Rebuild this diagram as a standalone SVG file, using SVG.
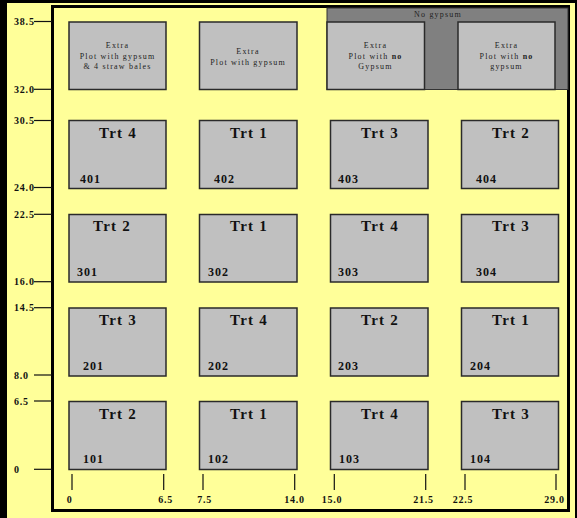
<svg xmlns="http://www.w3.org/2000/svg" width="577" height="518" viewBox="0 0 577 518">
<style>
.plot{fill:#C0C0C0;stroke:#2a2a2a;stroke-width:1.5}
.trt{font-family:"Liberation Serif",serif;font-weight:bold;font-size:15px;letter-spacing:1.2px;text-anchor:middle;fill:#111}
.num{font-family:"Liberation Serif",serif;font-weight:bold;font-size:12px;letter-spacing:1px;fill:#111}
.ex{font-family:"Liberation Serif",serif;font-size:8px;letter-spacing:1.2px;text-anchor:middle;fill:#222}
.ax{font-family:"Liberation Serif",serif;font-weight:bold;font-size:10px;letter-spacing:0.8px;fill:#111}
.axm{font-family:"Liberation Serif",serif;font-weight:bold;font-size:10px;letter-spacing:0.8px;fill:#111;text-anchor:middle}
.tick{stroke:#111;stroke-width:1.2}
</style>
<rect x="0" y="0" width="577" height="518" fill="#FFFF99"/>
<rect x="0" y="0" width="7" height="518" fill="#000"/>
<rect x="0" y="0" width="577" height="3" fill="#000"/>
<rect x="575" y="0" width="2" height="518" fill="#000"/>
<rect x="52.5" y="6.5" width="516" height="504" fill="#FFFF99" stroke="#000" stroke-width="3"/>
<g id="nogypsum">
<rect x="327" y="8" width="241" height="81.5" fill="#808080" stroke="#333" stroke-width="1"/>
<text class="ex" x="438" y="17.3">No gypsum</text>
</g>
<g id="extra1"><rect class="plot" x="69" y="22" width="97" height="67.5"/>
<text class="ex" x="117.5" y="47.5">Extra</text><text class="ex" x="117.5" y="58.5">Plot with gypsum</text><text class="ex" x="117.5" y="69">&amp; 4 straw bales</text></g>
<g id="extra2"><rect class="plot" x="199.5" y="22" width="97.5" height="67.5"/>
<text class="ex" x="248" y="54.3">Extra</text><text class="ex" x="248" y="64.5">Plot with gypsum</text></g>
<g id="extra3"><rect class="plot" x="327" y="22" width="97.5" height="67.5"/>
<text class="ex" x="375.5" y="47.5">Extra</text><text class="ex" x="375.5" y="58.5">Plot with <tspan font-weight="bold">no</tspan></text><text class="ex" x="375.5" y="69">Gypsum</text></g>
<g id="extra4"><rect class="plot" x="458" y="22" width="97" height="67.5"/>
<text class="ex" x="506.5" y="47.5">Extra</text><text class="ex" x="506.5" y="58.5">Plot with <tspan font-weight="bold">no</tspan></text><text class="ex" x="506.5" y="69">gypsum</text></g>

<g id="p401"><rect class="plot" x="69" y="120.5" width="97" height="68"/><text class="trt" x="118" y="138">Trt 4</text><text class="num" x="80" y="183">401</text></g>
<g id="p402"><rect class="plot" x="199.5" y="120.5" width="97.5" height="68"/><text class="trt" x="249" y="138">Trt 1</text><text class="num" x="214" y="183">402</text></g>
<g id="p403"><rect class="plot" x="330.5" y="120.5" width="97.5" height="68"/><text class="trt" x="380" y="138">Trt 3</text><text class="num" x="338" y="183">403</text></g>
<g id="p404"><rect class="plot" x="461.5" y="120.5" width="97" height="68"/><text class="trt" x="511" y="138">Trt 2</text><text class="num" x="476" y="183">404</text></g>

<g id="p301"><rect class="plot" x="69" y="214.5" width="97" height="67.5"/><text class="trt" x="112" y="231.3">Trt 2</text><text class="num" x="77" y="276">301</text></g>
<g id="p302"><rect class="plot" x="199.5" y="214.5" width="97.5" height="67.5"/><text class="trt" x="249" y="231.3">Trt 1</text><text class="num" x="208" y="276">302</text></g>
<g id="p303"><rect class="plot" x="330.5" y="214.5" width="97.5" height="67.5"/><text class="trt" x="380" y="231.3">Trt 4</text><text class="num" x="338" y="276">303</text></g>
<g id="p304"><rect class="plot" x="461.5" y="214.5" width="97" height="67.5"/><text class="trt" x="511" y="231.3">Trt 3</text><text class="num" x="476" y="276">304</text></g>

<g id="p201"><rect class="plot" x="69" y="308" width="97" height="68"/><text class="trt" x="118" y="325.3">Trt 3</text><text class="num" x="83" y="369.5">201</text></g>
<g id="p202"><rect class="plot" x="199.5" y="308" width="97.5" height="68"/><text class="trt" x="249" y="325.3">Trt 4</text><text class="num" x="208" y="369.5">202</text></g>
<g id="p203"><rect class="plot" x="330.5" y="308" width="97.5" height="68"/><text class="trt" x="380" y="325.3">Trt 2</text><text class="num" x="338" y="369.5">203</text></g>
<g id="p204"><rect class="plot" x="461.5" y="308" width="97" height="68"/><text class="trt" x="511" y="325.3">Trt 1</text><text class="num" x="470" y="369.5">204</text></g>

<g id="p101"><rect class="plot" x="69" y="401.5" width="97" height="68"/><text class="trt" x="118" y="419">Trt 2</text><text class="num" x="83" y="463">101</text></g>
<g id="p102"><rect class="plot" x="199.5" y="401.5" width="97.5" height="68"/><text class="trt" x="249" y="419">Trt 1</text><text class="num" x="208" y="463">102</text></g>
<g id="p103"><rect class="plot" x="330.5" y="401.5" width="97.5" height="68"/><text class="trt" x="380" y="419">Trt 4</text><text class="num" x="339" y="463">103</text></g>
<g id="p104"><rect class="plot" x="461.5" y="401.5" width="97" height="68"/><text class="trt" x="511" y="419">Trt 3</text><text class="num" x="470" y="463">104</text></g>

<g id="yaxis">
<line class="tick" x1="34" y1="21.5" x2="52" y2="21.5"/><text class="ax" x="14" y="25">38.5</text>
<line class="tick" x1="34" y1="89.3" x2="52" y2="89.3"/><text class="ax" x="14" y="92.8">32.0</text>
<line class="tick" x1="34" y1="120.5" x2="52" y2="120.5"/><text class="ax" x="14" y="124">30.5</text>
<line class="tick" x1="34" y1="187.5" x2="52" y2="187.5"/><text class="ax" x="14" y="191">24.0</text>
<line class="tick" x1="34" y1="214.3" x2="52" y2="214.3"/><text class="ax" x="14" y="217.8">22.5</text>
<line class="tick" x1="34" y1="281.7" x2="52" y2="281.7"/><text class="ax" x="14" y="285.2">16.0</text>
<line class="tick" x1="34" y1="307.7" x2="52" y2="307.7"/><text class="ax" x="14" y="311.2">14.5</text>
<line class="tick" x1="34" y1="375" x2="52" y2="375"/><text class="ax" x="14" y="378.5">8.0</text>
<line class="tick" x1="34" y1="401" x2="52" y2="401"/><text class="ax" x="14" y="404.5">6.5</text>
<line class="tick" x1="34" y1="469.3" x2="52" y2="469.3"/><text class="ax" x="14" y="472.8">0</text>
</g>
<g id="xaxis">
<line class="tick" x1="72" y1="474" x2="72" y2="490"/><text class="axm" x="69.7" y="502.5">0</text>
<line class="tick" x1="163.7" y1="474" x2="163.7" y2="490"/><text class="axm" x="165.7" y="502.5">6.5</text>
<line class="tick" x1="203" y1="474" x2="203" y2="490"/><text class="axm" x="204.7" y="502.5">7.5</text>
<line class="tick" x1="294.7" y1="474" x2="294.7" y2="490"/><text class="axm" x="294.5" y="502.5">14.0</text>
<line class="tick" x1="334.3" y1="474" x2="334.3" y2="490"/><text class="axm" x="332" y="502.5">15.0</text>
<line class="tick" x1="425.7" y1="474" x2="425.7" y2="490"/><text class="axm" x="423.5" y="502.5">21.5</text>
<line class="tick" x1="465" y1="474" x2="465" y2="490"/><text class="axm" x="463" y="502.5">22.5</text>
<line class="tick" x1="556" y1="474" x2="556" y2="490"/><text class="axm" x="554.5" y="502.5">29.0</text>
</g>
</svg>
